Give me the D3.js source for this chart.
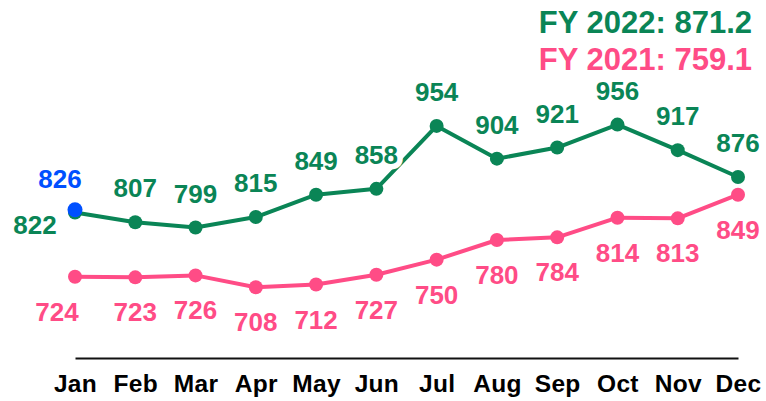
<!DOCTYPE html>
<html>
<head>
<meta charset="utf-8">
<script src="https://cdn.jsdelivr.net/npm/d3@7"></script>
<style>
    body { margin: 0; background: #fff; }
    svg { display: block; font-family: "Liberation Sans", Arial, sans-serif; font-weight: bold; }
</style>
</head>
<body>
<div id="chart-container"></div>
<script>
// Chart data
const months = ['Jan', 'Feb', 'Mar', 'Apr', 'May', 'Jun', 'Jul', 'Aug', 'Sep', 'Oct', 'Nov', 'Dec'];
const fy2022 = [822, 807, 799, 815, 849, 858, 954, 904, 921, 956, 917, 876];
const fy2021 = [724, 723, 726, 708, 712, 727, 750, 780, 784, 814, 813, 849];
const highlight = { month: 'Jan', value: 826 };
const legendLabels = ['FY 2022: 871.2', 'FY 2021: 759.1'];

const green = '#0a8556';
const pink = '#ff4c86';
const blue = '#0050ff';

const width = 766, height = 401;

const svg = d3.select('#chart-container')
    .append('svg')
    .attr('width', width)
    .attr('height', height);

// Scales
const xScale = d3.scalePoint()
    .domain(months)
    .range([75, 738]);

const yScale = d3.scaleLinear()
    .domain([600, 1146])
    .range([358, 0]);

// Bottom axis: plain line + month labels
const xAxis = svg.append('g')
    .attr('transform', `translate(0,${yScale(600)})`)
    .call(d3.axisBottom(xScale).tickSize(0).tickPadding(17));

xAxis.select('.domain')
    .attr('stroke', '#111')
    .attr('stroke-width', 2);

xAxis.selectAll('text')
    .attr('fill', '#000')
    .style('font-family', '"Liberation Sans", Arial, sans-serif')
    .style('font-weight', 'bold')
    .style('font-size', '24.5px')
    .style('letter-spacing', '0.3px');

// Line generator
const line = d3.line()
    .x((d, i) => xScale(months[i]))
    .y(d => yScale(d));

const series = [
    { values: fy2021, color: pink },
    { values: fy2022, color: green }
];

series.forEach(s => {
    svg.append('path')
        .datum(s.values)
        .attr('fill', 'none')
        .attr('stroke', s.color)
        .attr('stroke-width', 4)
        .attr('stroke-linejoin', 'round')
        .attr('d', line);

    svg.selectAll(null)
        .data(s.values)
        .enter()
        .append('circle')
        .attr('cx', (d, i) => xScale(months[i]))
        .attr('cy', d => yScale(d))
        .attr('r', 7)
        .attr('fill', s.color);
});

// Highlighted point (Jan)
svg.append('circle')
    .attr('cx', xScale(highlight.month))
    .attr('cy', yScale(highlight.value))
    .attr('r', 7.5)
    .attr('fill', blue);

// Value labels with white halo
function addLabel(x, y, txt, color) {
    svg.append('text')
        .attr('x', x)
        .attr('y', y)
        .attr('text-anchor', 'middle')
        .attr('fill', color)
        .attr('stroke', '#fff')
        .attr('stroke-width', 11)
        .attr('stroke-linejoin', 'round')
        .attr('paint-order', 'stroke')
        .style('font-size', '26px')
        .text(txt);
}

fy2021.forEach((v, i) => {
    const dx = i === 0 ? -18 : 0;
    addLabel(xScale(months[i]) + dx, yScale(v) + 44, v, pink);
});

fy2022.forEach((v, i) => {
    if (i === 0) {
        addLabel(xScale(months[i]) - 40, yScale(v) + 22, v, green);
    } else {
        addLabel(xScale(months[i]), yScale(v) - 25, v, green);
    }
});

addLabel(xScale(highlight.month) - 15, yScale(highlight.value) - 22, highlight.value, blue);

// Legend (top right)
svg.selectAll('.legend')
    .data(legendLabels)
    .enter()
    .append('text')
    .attr('class', 'legend')
    .attr('x', 752)
    .attr('y', (d, i) => 33 + i * 37)
    .attr('text-anchor', 'end')
    .attr('fill', (d, i) => i === 0 ? green : pink)
    .style('font-size', '31px')
    .text(d => d);
</script>
</body>
</html>
